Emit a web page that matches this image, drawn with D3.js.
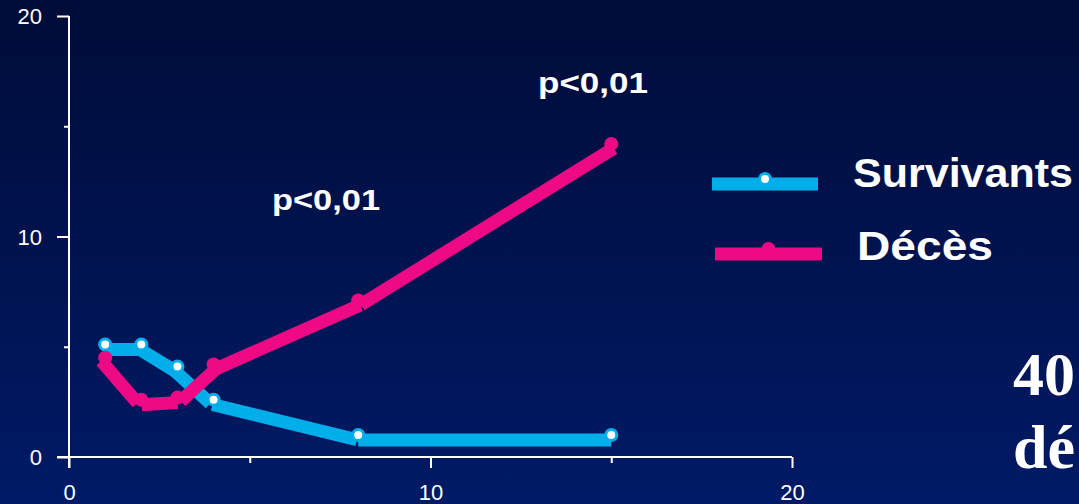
<!DOCTYPE html>
<html>
<head>
<meta charset="utf-8">
<script src="https://cdn.jsdelivr.net/npm/d3@7"></script>
<style>
  html, body { margin: 0; padding: 0; background: #00123f; }
  svg { display: block; }
</style>
</head>
<body>
<svg id="chart" width="1079" height="504"></svg>
<script>
// Days after admission and mean values for each outcome group
const days = [1, 2, 3, 4, 8, 15];
const survivants = [5.1, 5.1, 4.1, 2.6, 1.0, 1.0];
const deces = [4.5, 2.6, 2.7, 4.2, 7.1, 14.2];

const seriesNames = ["Survivants", "Décès"];
const xTicks = [0, 10, 20];
const xMinorTicks = [5, 15];
const yTicks = [0, 10, 20];
const yMinorTicks = [5, 15];
const pLabels = ["p<0,01", "p<0,01"];

const BLUE = "#00aeea";
const PINK = "#ee0a85";

const svg = d3.select("#chart");
const W = 1079, H = 504;

// background: vertical navy gradient
const defs = svg.append("defs");
const grad = defs.append("linearGradient")
  .attr("id", "bg").attr("x1", 0).attr("y1", 0).attr("x2", 0).attr("y2", 1);
grad.append("stop").attr("offset", "0%").attr("stop-color", "#000c38");
grad.append("stop").attr("offset", "100%").attr("stop-color", "#001a66");
svg.append("rect").attr("width", W).attr("height", H).attr("fill", "url(#bg)");

const x = d3.scaleLinear().domain([0, 20]).range([69, 792]);
const y = d3.scaleLinear().domain([0, 20]).range([457, 16]);

const axisColor = "#ffffff";
const tickFont = "Liberation Sans, Arial, sans-serif";

// x axis
const xAxis = svg.append("g").attr("transform", `translate(0,${y(0)})`)
  .call(d3.axisBottom(x).tickValues(xTicks).tickSize(11).tickSizeOuter(0).tickPadding(16));
const xMinor = svg.append("g").attr("transform", `translate(0,${y(0)})`)
  .call(d3.axisBottom(x).tickValues(xMinorTicks).tickSize(6).tickSizeOuter(0).tickFormat(""));

// y axis
const yAxis = svg.append("g").attr("transform", `translate(${x(0)},0)`)
  .call(d3.axisLeft(y).tickValues(yTicks).tickSize(12).tickSizeOuter(0).tickPadding(15));
const yMinor = svg.append("g").attr("transform", `translate(${x(0)},0)`)
  .call(d3.axisLeft(y).tickValues(yMinorTicks).tickSize(5).tickSizeOuter(0).tickFormat(""));

[xAxis, xMinor, yAxis, yMinor].forEach(g => {
  g.select(".domain").remove();
  g.selectAll("line").attr("stroke", axisColor).attr("stroke-width", 2);
  g.selectAll("text").attr("fill", axisColor)
    .style("font-family", tickFont).style("font-size", "22px");
});
yAxis.selectAll("text").attr("dy", "0.36em");
xAxis.selectAll("text").attr("dy", "0.72em");

// axis lines (they overshoot past the origin, crossing each other)
svg.append("line")
  .attr("x1", x(0) - 12).attr("x2", x(20)).attr("y1", y(0)).attr("y2", y(0))
  .attr("stroke", axisColor).attr("stroke-width", 2);
svg.append("line")
  .attr("x1", x(0)).attr("x2", x(0)).attr("y1", y(20)).attr("y2", y(0) + 11)
  .attr("stroke", axisColor).attr("stroke-width", 2);

// Thick segment lines: each segment is laid out on the lower side of the
// line joining its two points, which gives the stepped joints.
function drawSegments(g, pts, color, width, offset) {
  for (let i = 0; i < pts.length - 1; i++) {
    const [ax, ay] = pts[i], [bx, by] = pts[i + 1];
    const dx = bx - ax, dy = by - ay;
    const len = Math.hypot(dx, dy);
    const px = -dy / len * offset, py = dx / len * offset;
    g.append("line")
      .attr("x1", ax + px).attr("y1", ay + py)
      .attr("x2", bx + px).attr("y2", by + py)
      .attr("stroke", color).attr("stroke-width", width)
      .attr("stroke-linecap", "butt");
  }
}

const survPts = days.map((d, i) => [x(d), y(survivants[i])]);
const decesPts = days.map((d, i) => [x(d), y(deces[i])]);

// Survivants
const gS = svg.append("g");
drawSegments(gS, survPts, BLUE, 13, 5);
gS.selectAll("circle").data(survPts).join("circle")
  .attr("cx", d => d[0]).attr("cy", d => d[1]).attr("r", 5.5)
  .attr("fill", "#ffffff").attr("stroke", BLUE).attr("stroke-width", 3);

// Décès
const gD = svg.append("g");
drawSegments(gD, decesPts, PINK, 13, 5);
gD.selectAll("circle").data(decesPts).join("circle")
  .attr("cx", d => d[0]).attr("cy", d => d[1]).attr("r", 7)
  .attr("fill", PINK);

// significance labels
const labelFont = "Liberation Sans, Arial, sans-serif";
svg.append("text").text(pLabels[0])
  .attr("x", 272).attr("y", 210)
  .attr("textLength", 108).attr("lengthAdjust", "spacingAndGlyphs")
  .attr("fill", "#fff").style("font-family", labelFont)
  .style("font-weight", "bold").style("font-size", "30px");
svg.append("text").text(pLabels[1])
  .attr("x", 538).attr("y", 93)
  .attr("textLength", 110).attr("lengthAdjust", "spacingAndGlyphs")
  .attr("fill", "#fff").style("font-family", labelFont)
  .style("font-weight", "bold").style("font-size", "30px");

// legend
const legend = svg.append("g");
const legendItems = [
  { name: seriesNames[0], color: BLUE, x0: 712, x1: 818, y: 179, tx: 853, ty: 187, tl: 220, hollow: true },
  { name: seriesNames[1], color: PINK, x0: 715, x1: 822, y: 249, tx: 857, ty: 260, tl: 136, hollow: false }
];
legendItems.forEach(it => {
  drawSegments(legend, [[it.x0, it.y], [it.x1, it.y]], it.color, 13, 5);
  const cx = (it.x0 + it.x1) / 2;
  if (it.hollow) {
    legend.append("circle").attr("cx", cx).attr("cy", it.y).attr("r", 5.5)
      .attr("fill", "#fff").attr("stroke", it.color).attr("stroke-width", 3);
  } else {
    legend.append("circle").attr("cx", cx).attr("cy", it.y).attr("r", 7)
      .attr("fill", it.color);
  }
  legend.append("text").text(it.name)
    .attr("x", it.tx).attr("y", it.ty)
    .attr("textLength", it.tl).attr("lengthAdjust", "spacingAndGlyphs")
    .attr("fill", "#fff").style("font-family", labelFont)
    .style("font-weight", "bold").style("font-size", "40px");
});

// side caption running off the right edge
const serif = "Liberation Serif, 'Times New Roman', serif";
svg.append("text").text("40")
  .attr("x", 1013).attr("y", 395)
  .attr("fill", "#fff").style("font-family", serif)
  .style("font-weight", "bold").style("font-size", "62px");
svg.append("text").text("dé")
  .attr("x", 1013).attr("y", 468)
  .attr("fill", "#fff").style("font-family", serif)
  .style("font-weight", "bold").style("font-size", "62px");
</script>
</body>
</html>
